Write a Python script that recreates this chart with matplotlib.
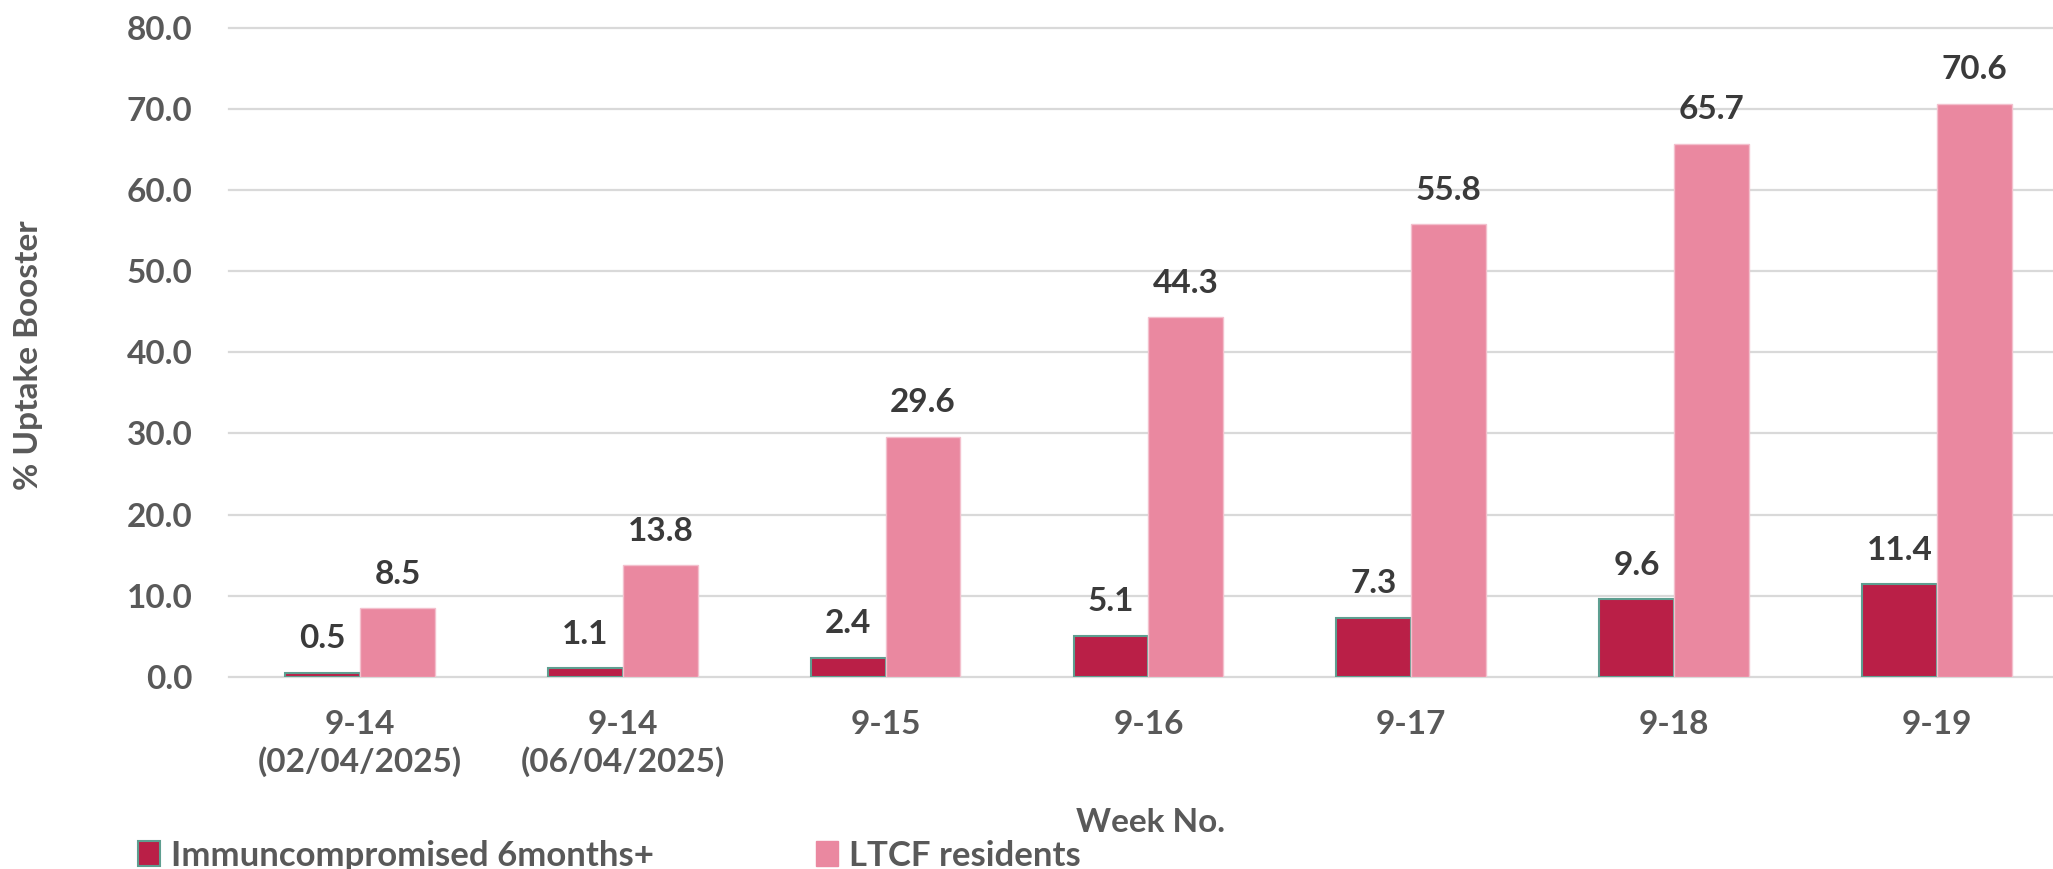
import matplotlib.pyplot as plt
import numpy as np

categories = ["9-14\n(02/04/2025)", "9-14\n(06/04/2025)", "9-15", "9-16", "9-17", "9-18", "9-19"]
immuno = [0.5, 1.1, 2.4, 5.1, 7.3, 9.6, 11.4]
ltcf = [8.5, 13.8, 29.6, 44.3, 55.8, 65.7, 70.6]
series_names = ["Immuncompromised 6months+", "LTCF residents"]
yticks = [0, 10, 20, 30, 40, 50, 60, 70, 80]

DARK = "#BA1F47"
PINK = "#EA88A0"
TEXT = "#595959"
LABEL = "#3A3A3A"

plt.rcParams["font.family"] = ["Lato", "DejaVu Sans"]
plt.rcParams["font.weight"] = "bold"

W, H = 2053, 869
fig = plt.figure(figsize=(W / 100, H / 100), dpi=100)
left, right, bottom, top = 228.6, 2053, 677, 27.5
ax = fig.add_axes([left / W, 1 - bottom / H, (right - left) / W, (bottom - top) / H])

x = np.arange(len(categories))
bw = 0.285
b1 = ax.bar(x - bw / 2, immuno, bw, color=DARK, edgecolor="#5E9E90", linewidth=1.5, zorder=3)
b2 = ax.bar(x + bw / 2, ltcf, bw, color=PINK, edgecolor="#F3C0CD", linewidth=1.0, zorder=3)

for bars in (b1, b2):
    ax.bar_label(bars, fmt="%.1f", padding=14, fontsize=24, fontweight="bold", color=LABEL)

ax.set_ylim(0, 80)
ax.set_xlim(-0.5, -0.5 + (right - left) / 262.8)
ax.set_yticks(yticks)
ax.set_yticklabels([f"{v:.1f}" for v in yticks])
ax.set_xticks(x)
ax.set_xticklabels(categories, linespacing=1.25)
ax.tick_params(axis="both", length=0, labelsize=24, labelcolor=TEXT)
ax.tick_params(axis="y", pad=26)
ax.tick_params(axis="x", pad=24)
for s in ax.spines.values():
    s.set_visible(False)
ax.yaxis.grid(True, color="#D9D9D9", linewidth=1.6, zorder=0)
ax.set_axisbelow(True)
for gl in ax.get_ygridlines():
    gl.set_clip_on(False)

fig.text(29 / W, 1 - 355 / H, "% Uptake Booster", rotation=90, ha="center", va="center",
         fontsize=24, fontweight="bold", color=TEXT)
fig.text(1150 / W, 1 - 823 / H, "Week No.", ha="center", va="center",
         fontsize=24, fontweight="bold", color=TEXT)

h1 = plt.Rectangle((0, 0), 1, 1, facecolor=DARK, edgecolor="#5E9E90", linewidth=1.5)
h2 = plt.Rectangle((0, 0), 1, 1, facecolor=PINK, edgecolor=PINK)
for h, name, xpos in ((h1, series_names[0], 138), (h2, series_names[1], 816)):
    leg = fig.legend([h], [name], loc="center left", bbox_to_anchor=(xpos / W, 1 - 856 / H),
                     frameon=False, borderpad=0, borderaxespad=0, handlelength=0.62,
                     handleheight=0.72, handletextpad=0.33, fontsize=25)
    for t in leg.get_texts():
        t.set_color(TEXT)
        t.set_fontweight("bold")

fig.savefig("out.png", dpi=100)
